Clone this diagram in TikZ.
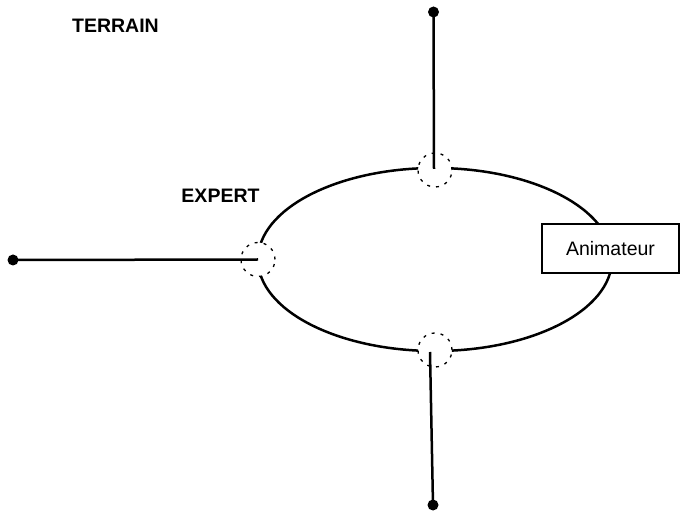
\documentclass[tikz,border=0pt]{standalone}
\usepackage{fontspec}
\setmainfont{Liberation Sans}
\usetikzlibrary{shapes.geometric}
\begin{document}
\begin{tikzpicture}[x=1pt,y=-1pt,
  ring/.style={draw, ellipse, line width=2.5pt, inner sep=0pt,
    minimum width=354pt, minimum height=183pt},
  joint/.style={circle, draw, line width=1.3pt, dash pattern=on 3pt off 6pt,
    minimum size=34pt, inner sep=0pt},
  endpt/.style={circle, fill=black, minimum size=11pt, inner sep=0pt},
  spoke/.style={line width=2.5pt},
  rolebox/.style={draw, fill=white, line width=1.2pt, minimum width=137pt,
    minimum height=49pt, inner sep=0pt, font=\fontsize{19.5}{23}\selectfont},
  tag/.style={font=\fontsize{19.5}{23}\selectfont\bfseries, inner sep=0pt}]
\useasboundingbox (0,0) rectangle (686,529);

% the ring, broken where the three joints sit
\begin{scope}[even odd rule]
  \clip (0,0) rectangle (686,529)
    (435,170) circle[radius=17pt]
    (258,259.5) circle[radius=17pt]
    (435,350) circle[radius=17pt];
  \node[ring] (loop) at (435,259.5) {};
\end{scope}

% joints on the ring
\node[joint] (jtop) at (435,170) {};
\node[joint] (jleft) at (258,259.5) {};
\node[joint] (jbot) at (435,350) {};

% outer ends of the spokes
\node[endpt] (etop) at (433.5,12) {};
\node[endpt] (eleft) at (13,260) {};
\node[endpt] (ebot) at (433,505) {};
\coordinate (tend) at (434,169);
\coordinate (bend) at (430,352);

\draw[spoke] (etop.center) -- (tend);
\draw[spoke] (eleft.center) -- (jleft.center);
\draw[spoke] (ebot.center) -- (bend);

% facilitator box over the right side of the ring
\node[rolebox] (anim) at (610.5,248.5) {Animateur};

% labels
\node[tag] (terrain) at (115.5,25.5) {TERRAIN};
\node[tag] (expert) at (220.5,195.5) {EXPERT};
\end{tikzpicture}
\end{document}
